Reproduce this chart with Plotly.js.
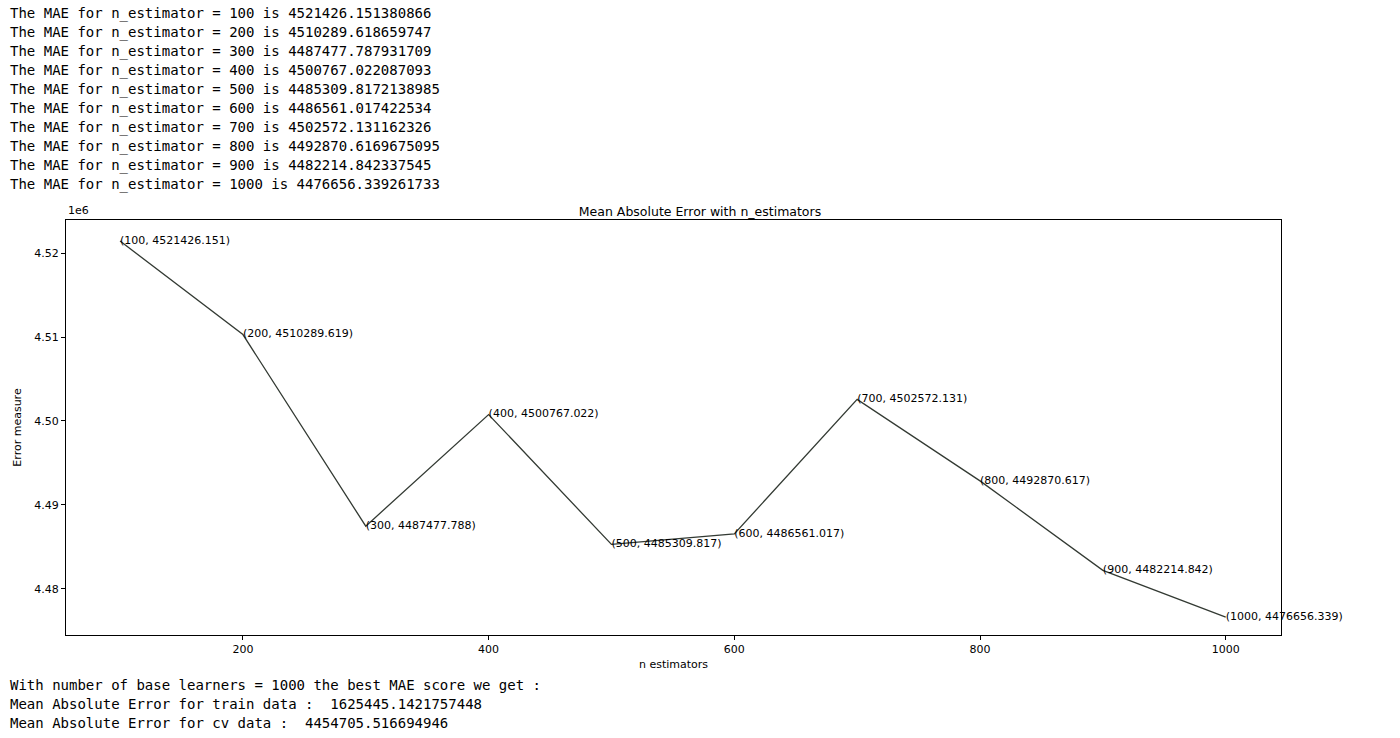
<!DOCTYPE html>
<html><head>
<script src="https://cdn.plot.ly/plotly-3.0.1.min.js"></script>
<style>
body{margin:0;background:#fff;width:1400px;height:738px;overflow:hidden;position:relative}
pre{position:absolute;left:10px;margin:0;font-family:"DejaVu Sans Mono",monospace;font-size:14px;line-height:19px;color:#000;z-index:2}
#chart{position:absolute;left:0;top:0;width:1400px;height:738px}
</style></head>
<body>
<pre id="top" style="top:4px"></pre>
<div id="chart"></div>
<pre id="bottom" style="top:676px"></pre>
<script>
const nEstimators = [100, 200, 300, 400, 500, 600, 700, 800, 900, 1000];
const maeFull = ['4521426.151380866','4510289.618659747','4487477.787931709','4500767.022087093','4485309.8172138985','4486561.017422534','4502572.131162326','4492870.6169675095','4482214.842337545','4476656.339261733'];
const mae = maeFull.map(Number);
const yTicks = [4480000, 4490000, 4500000, 4510000, 4520000];
const yTickText = ['4.48', '4.49', '4.50', '4.51', '4.52'];
const bottomLines = [
  'With number of base learners = 1000 the best MAE score we get :',
  'Mean Absolute Error for train data :  1625445.1421757448',
  'Mean Absolute Error for cv data :  4454705.516694946'
];

document.getElementById('top').textContent = nEstimators.map((n, i) => 'The MAE for n_estimator = ' + n + ' is ' + maeFull[i]).join('\n');
document.getElementById('bottom').textContent = bottomLines.join('\n');

const labels = nEstimators.map((n, i) => '(' + n + ', ' + mae[i].toFixed(3) + ')');

Plotly.newPlot('chart', [{
  x: nEstimators, y: mae, type: 'scatter', mode: 'lines+text',
  line: {color: '#333a33', width: 1.3},
  text: labels, textposition: 'middle right',
  textfont: {family: 'DejaVu Sans', size: 11, color: '#000'},
  cliponaxis: false, hoverinfo: 'none'
}], {
  width: 1400, height: 738,
  margin: {l: 66, r: 119, t: 220, b: 103},
  paper_bgcolor: 'rgba(0,0,0,0)', plot_bgcolor: '#fff',
  showlegend: false,
  font: {family: 'DejaVu Sans', size: 11, color: '#000'},
  title: {text: 'Mean Absolute Error with n_estimators', font: {size: 12.5}, x: 0.5, xanchor: 'center', y: 1 - 212/738, yanchor: 'middle'},
  xaxis: {range: [56, 1045], tickvals: [200, 400, 600, 800, 1000], showgrid: false, zeroline: false,
    showline: true, mirror: true, linecolor: '#000', linewidth: 1, ticks: 'outside', ticklen: 4, tickcolor: '#000',
    title: {text: 'n estimators', font: {size: 11}, standoff: 5}},
  yaxis: {range: [4474520, 4523930], tickvals: yTicks, ticktext: yTickText, showgrid: false, zeroline: false,
    showline: true, mirror: true, linecolor: '#000', linewidth: 1, ticks: 'outside', ticklen: 4, tickcolor: '#000',
    title: {text: 'Error measure', font: {size: 11}, standoff: 10}},
  annotations: [{xref: 'paper', yref: 'paper', x: 0, y: 1, xanchor: 'left', yanchor: 'bottom', yshift: 1, text: '1e6', showarrow: false, font: {size: 11}}]
}, {staticPlot: true});
</script>
</body></html>
